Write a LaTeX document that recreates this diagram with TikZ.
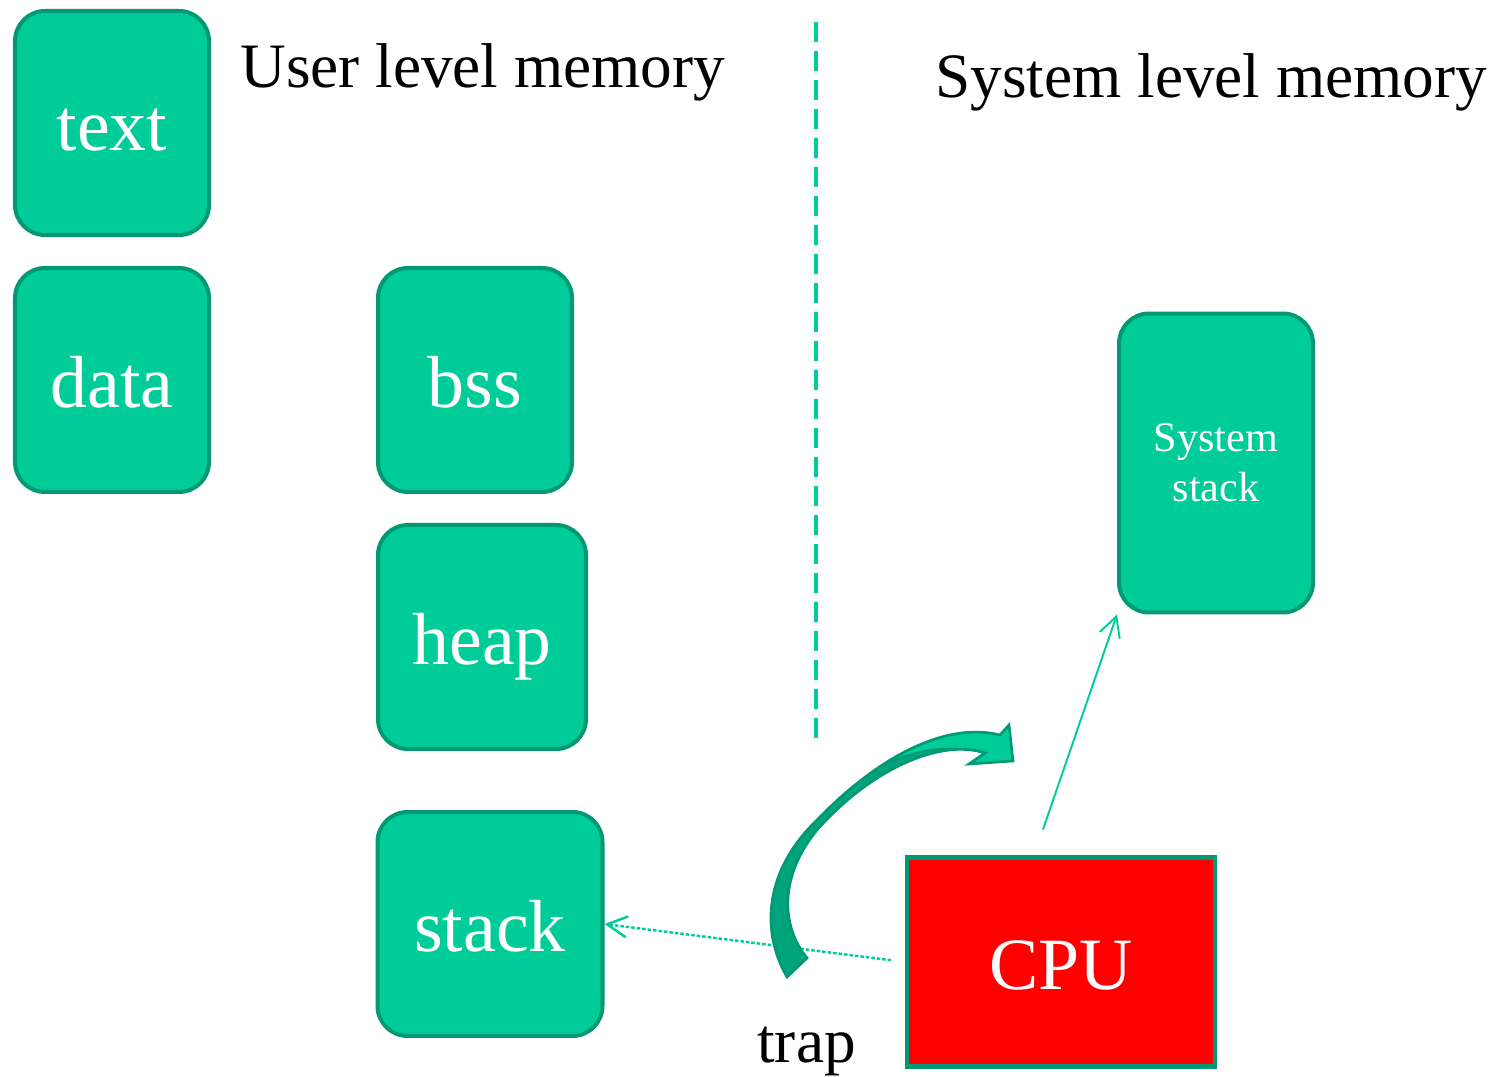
\documentclass[tikz,border=0pt]{standalone}
\usepackage{fontspec}
\setmainfont{Liberation Serif}
\usetikzlibrary{arrows.meta}
\definecolor{memfill}{HTML}{00CC99}
\definecolor{memline}{HTML}{009973}
\definecolor{trapdark}{HTML}{00A47B}
\definecolor{cpured}{HTML}{FF0000}
\tikzset{
  membox/.style={draw=memline, fill=memfill, line width=2.3pt, rounded corners=0.6cm,
    text=white, inner sep=0pt, text height=42pt, text depth=10.2pt,
    font=\fontsize{42}{50}\selectfont},
  title/.style={anchor=base west, inner sep=0pt, font=\fontsize{36}{43}\selectfont},
  thinarrow/.style={draw=memfill, line width=1.1pt, -{Straight Barb[length=0.4cm,width=0.42cm]}},
}

\begin{document}
\begin{tikzpicture}[x=0.02cm, y=-0.02cm]
    \useasboundingbox (0,0) rectangle (1499,1077);
    % user level
    \node[membox, minimum width=3.88cm, minimum height=4.48cm] (text) at (112,123) {text};
    \node[membox, minimum width=3.88cm, minimum height=4.48cm] (data) at (112,380) {data};
    \node[membox, minimum width=3.88cm, minimum height=4.48cm] (bss) at (475,380) {bss};
    \node[membox, minimum width=4.16cm, minimum height=4.48cm] (heap) at (482,637) {heap};
    \node[membox, minimum width=4.5cm, minimum height=4.48cm] (stack) at (490,924) {stack};
    % system level
    \node[membox, minimum width=3.88cm, minimum height=5.98cm, align=center,
        text height=, text depth=, font=\fontsize{24}{28.4}\selectfont] (sysstack) at (1216,463)
        {\raisebox{-0.1cm}{System}\\\raisebox{-0.1cm}{stack}};
    \node[draw=memline, fill=cpured, line width=2.3pt, text=white, inner sep=0pt,
        text height=42pt, text depth=10.2pt,
        minimum width=6.16cm, minimum height=4.18cm, font=\fontsize{42}{50}\selectfont] (cpu) at (1061,962) {CPU};
    \node[title] (usertitle) at (240,88) {User level memory};
    \node[title] (systitle) at (935,98) {System level memory};
    \node[title] (trap) at (757,1062) {trap};
    % divider
    \coordinate (divtop) at (816,22);
    \coordinate (divbot) at (816,742);
    \draw[memfill, line width=2.3pt, dash pattern=on 0.4cm off 0.18cm] (divtop) -- (divbot);
    % arrows
    \draw[thinarrow] ([xshift=-0.36cm, yshift=0.52cm]cpu.north) -- (sysstack.south west);
    \draw[thinarrow, line width=1.4pt, dash pattern=on 0.07cm off 0.04cm, shorten <=0.28cm] (cpu.west) -- (stack.east);
    % curved trap arrow
    \fill[trapdark]
        (787,977) .. controls (760,930) and (765,870) .. (817,820)
        .. controls (870,765) and (940,720) .. (1000,735)
        -- (1009,725) -- (1013,761) -- (969,764) -- (985,753)
        .. controls (940,738) and (870,770) .. (817,830)
        .. controls (780,875) and (780,925) .. (807,958) -- cycle;
    \fill[memfill]
        (868.5,774.6) .. controls (911.1,743.4) and (958,724.5) .. (1000,735)
        -- (1009,725) -- (1013,761) -- (969,764) -- (985,753)
        .. controls (945,742) and (900,752) .. (868.5,774.6) -- cycle;
    \draw[memline, line width=1pt] (985,753) .. controls (945,742) and (900,752) .. (868.5,774.6);
    \draw[memline, line width=1.5pt, line join=miter]
        (787,977) .. controls (760,930) and (765,870) .. (817,820)
        .. controls (870,765) and (940,720) .. (1000,735)
        -- (1009,725) -- (1013,761) -- (969,764) -- (985,753)
        .. controls (940,738) and (870,770) .. (817,830)
        .. controls (780,875) and (780,925) .. (807,958) -- cycle;
\end{tikzpicture}
\end{document}
